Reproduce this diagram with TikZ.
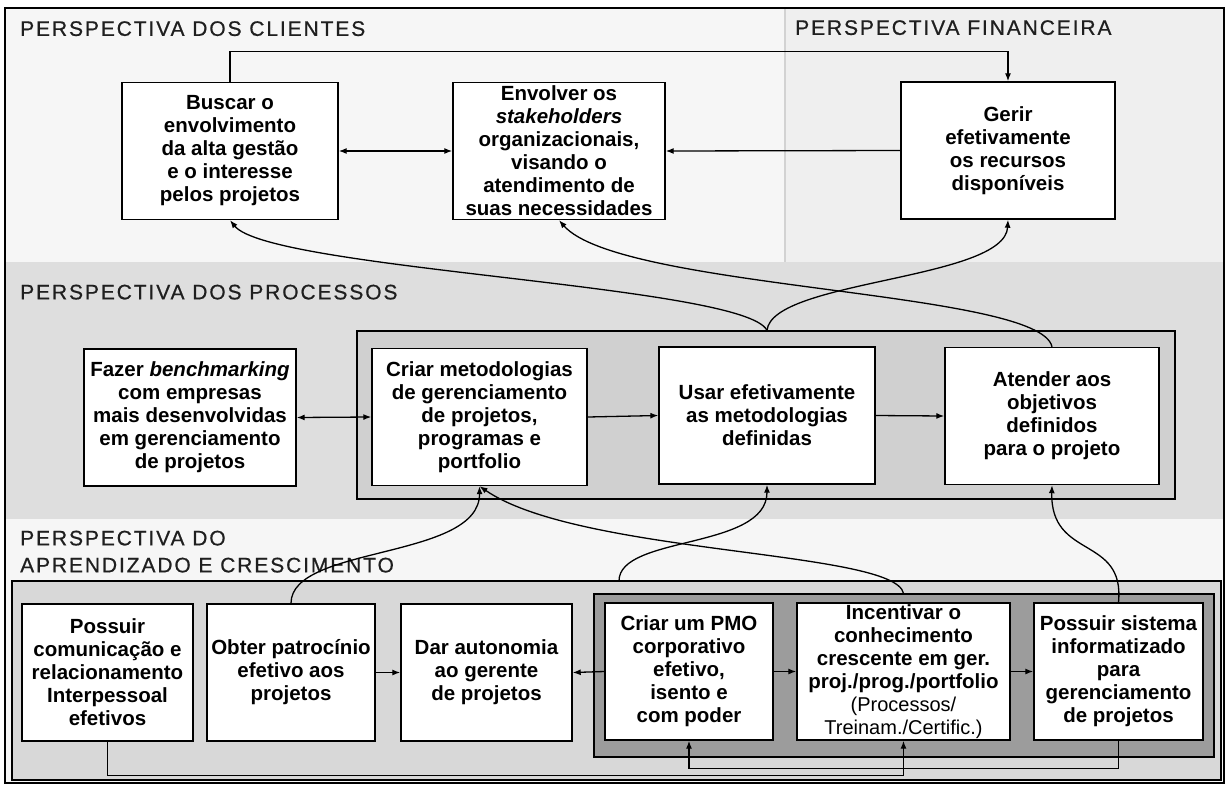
\documentclass[tikz,border=0pt]{standalone}
\usepackage{fontspec}
\setmainfont{Liberation Sans}
\newfontfamily\cabfont[LetterSpace=9,FakeBold=0.6]{Liberation Sans}
\usetikzlibrary{arrows.meta}
\definecolor{fundoA}{HTML}{F6F6F6}
\definecolor{fundoB}{HTML}{EFEFEF}
\definecolor{fundoC}{HTML}{DEDEDE}
\definecolor{fundoD}{HTML}{D0D0D0}
\definecolor{fundoE}{HTML}{D8D8D8}
\definecolor{fundoF}{HTML}{9C9C9C}
\definecolor{divisa}{HTML}{D2D2D2}
\newcommand\caixafont{\fontsize{20.5pt}{23pt}\selectfont\bfseries}
\newcommand\cabecfont{\fontsize{21pt}{27pt}\selectfont\cabfont}
\tikzset{
	caixa/.style={draw, line width=1.4pt, fill=white, align=center, font=\caixafont,
		inner sep=0pt, minimum height=137pt, minimum width=#1},
	grupo/.style={draw, line width=1.2pt, inner sep=0pt},
	cabec/.style={anchor=north west, align=left, font=\cabecfont, text=black!88, inner sep=0pt},
	seta/.style={line width=1.3pt, >={Latex[length=8pt,width=6pt]}, ->}
}

\begin{document}
\begin{tikzpicture}[x=1pt,y=-1pt]
		\useasboundingbox (0,0) rectangle (1228,785);
		\fill[white] (0,0) rectangle (1228,785);
		% fundos das perspectivas
		\fill[fundoA] (5,8) rectangle (785,262);
		\fill[fundoB] (785,8) rectangle (1224,262);
		\draw[divisa, line width=2pt] (785,8) -- (785,262);
		\fill[fundoC] (5,262) rectangle (1224,519);
		\fill[fundoA] (5,519) rectangle (1224,783);
		\node[grupo, fill=fundoD, minimum width=818pt, minimum height=168pt] (grpproc) at (766,415) {};
		\node[grupo, fill=fundoE, minimum width=1209pt, minimum height=199pt] (grpapr) at (616.5,680.5) {};
		\node[grupo, fill=fundoF, minimum width=620pt, minimum height=163pt] (grppmo) at (904,675.5) {};
		\draw[line width=1.5pt] (5,8) rectangle (1224,783);
		% titulos
		\node[cabec] (hcli) at (20,21) {PERSPECTIVA DOS CLIENTES};
		\node[cabec] (hfin) at (795,20) {PERSPECTIVA FINANCEIRA};
		\node[cabec] (hproc) at (20,284.5) {PERSPECTIVA DOS PROCESSOS};
		\node[cabec] (hapr) at (20,530.5) {PERSPECTIVA DO\\APRENDIZADO E CRESCIMENTO};
		% caixas
		\foreach \Nome/\Xc/\Yc/\Larg/\Texto in 
		{buscar/230/151/216/{Buscar o\\envolvimento\\da alta gestão\\e o interesse\\pelos projetos},
		envolver/559/151/212/{Envolver os\\\textit{stakeholders}\\organizacionais,\\visando o\\atendimento de\\suas necessidades},
		gerir/1008/150.5/214/{Gerir\\efetivamente\\os recursos\\disponíveis},
		fazer/190/417.5/212/{Fazer \textit{benchmarking}\\com empresas\\mais desenvolvidas\\em gerenciamento\\de projetos},
		criarmet/479.5/417/215/{Criar metodologias\\de gerenciamento\\de projetos,\\programas e\\portfolio},
		usar/767/415.5/216/{Usar efetivamente\\as metodologias\\definidas},
		atender/1052/416/214/{Atender aos\\objetivos\\definidos\\para o projeto},
		poscom/107.5/672.5/171/{Possuir\\comunicação e\\relacionamento\\Interpessoal\\efetivos},
		obter/291/672.5/168/{Obter patrocínio\\efetivo aos\\projetos},
		dar/486.5/672.5/171/{Dar autonomia\\ao gerente\\de projetos},
		pmo/689/671.5/168/{Criar um PMO\\corporativo\\efetivo,\\isento e\\com poder},
		possis/1118.5/671.5/169/{Possuir sistema\\informatizado\\para\\gerenciamento\\de projetos}}
		{
			\node[caixa=\Larg pt] (\Nome) at (\Xc,\Yc) {\Texto};
		}
		\node[caixa=213pt] (incent) at (903.5,671.5) {Incentivar o\\conhecimento\\crescente em ger.\\proj./prog./portfolio\\{\mdseries\fontsize{20pt}{23pt}\selectfont(Processos/}\\{\mdseries\fontsize{20pt}{23pt}\selectfont Treinam./Certific.)}};
		% ligacoes retas
		\draw[seta] (buscar.north) -- ++(0,-30) -| (gerir.north);
		\draw[seta,<->] (buscar.east) -- (envolver.west);
		\draw[seta] (gerir.west) -- (envolver.east);
		\draw[seta,<->] (fazer.east) -- (criarmet.west);
		\draw[seta] (criarmet.east) -- (usar.west);
		\draw[seta] (usar.east) -- (atender.west);
		\draw[seta] (obter.east) -- (dar.west);
		\draw[seta] (pmo.west) -- (dar.east);
		\draw[seta] (pmo.east) -- (incent.west);
		\draw[seta] (incent.east) -- (possis.west);
		\draw[seta] (poscom.south) -- ++(0,34) -| (incent.south);
		\draw[seta] (possis.south) -- ++(0,28) -| (pmo.south);
		% ligacoes curvas
		\coordinate (forkproc) at (usar.north |- grpproc.north);
		\coordinate (forkinc) at (incent.north |- grppmo.north);
		\coordinate (forkapr) at (619,581);
		\draw[seta] (forkproc) .. controls (745,285) and (270,270) .. (buscar.south);
		\draw[seta] (forkproc) .. controls (772,280) and (1005,280) .. (gerir.south);
		\draw[seta] (atender.north) .. controls (1040,290) and (620,290) .. (envolver.south);
		\draw[seta] (obter.north) .. controls (291,545) and (480,560) .. (criarmet.south);
		\draw[seta] (forkinc) .. controls (895,550) and (580,555) .. (criarmet.south);
		\draw[seta] (forkapr) .. controls (619,535) and (767,550) .. (usar.south);
		\draw[seta] (possis.north) .. controls (1125,535) and (1050,560) .. (atender.south);
\end{tikzpicture}
\end{document}
